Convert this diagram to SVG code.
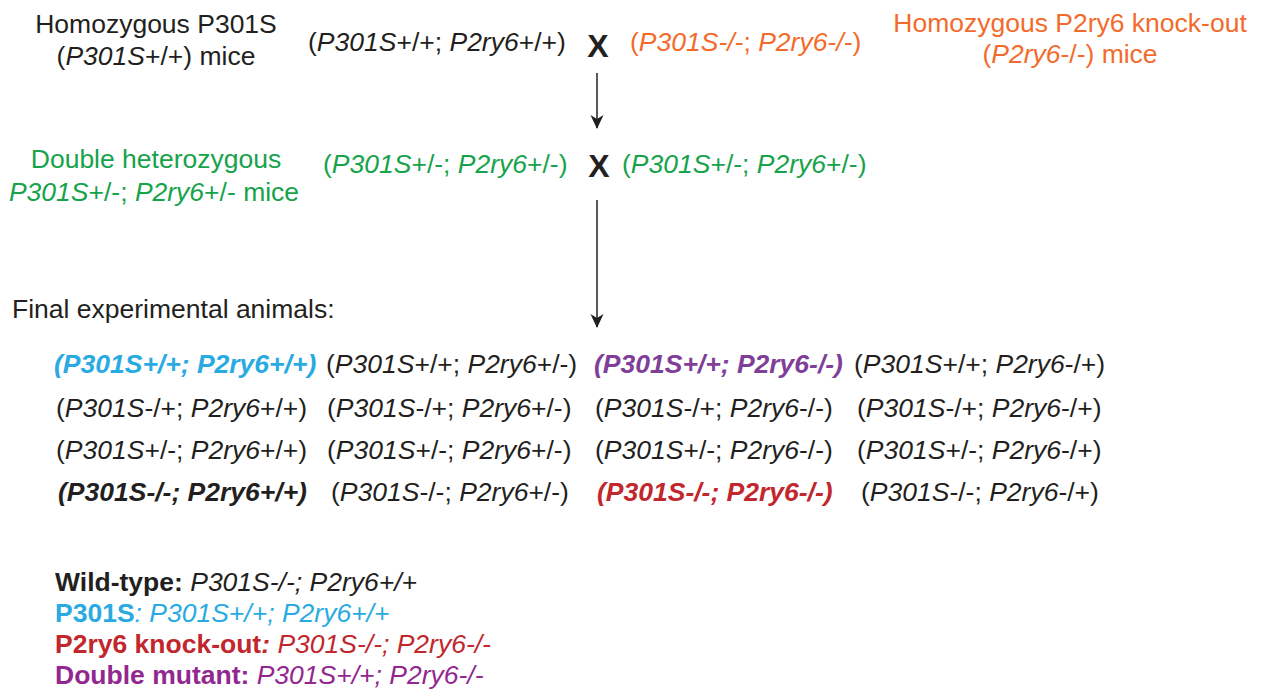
<svg xmlns="http://www.w3.org/2000/svg" width="1261" height="695" viewBox="0 0 1261 695">
  <defs>
    <marker id="arrowhead" viewBox="0 0 14 14" refX="13" refY="7" markerWidth="14" markerHeight="14" markerUnits="userSpaceOnUse" orient="auto">
      <path d="M0,0.5 L14,7 L0,13.5 L4,7 Z" fill="#231f20"/>
    </marker>
  </defs>
  <style>
    text { font-family: "Liberation Sans", Arial, sans-serif; font-size: 26.5px; fill: #231f20; }
    .i { font-style: italic; }
    .b { font-weight: bold; }
    .x { font-size: 32px; font-weight: bold; }
    .orange text, text.orange { fill: #f26b2c; }
    .green text, text.green { fill: #16a34b; }
    text.cyan, .cyan tspan { fill: #29abe2; }
    text.purple { fill: #7f3f98; }
    text.red, .red tspan { fill: #c1272d; }
    text.magenta, .magenta tspan { fill: #92278f; }
    .conn { stroke: #231f20; stroke-width: 1.5; fill: none; marker-end: url(#arrowhead); }
  </style>
  <rect width="1261" height="695" fill="#ffffff"/>

  <!-- parental generation -->
  <g id="parent-p301s">
    <text x="156" y="33" text-anchor="middle">Homozygous P301S</text>
    <text x="156" y="65" text-anchor="middle">(<tspan class="i">P301S</tspan>+/+) mice</text>
  </g>
  <g id="parent-cross">
    <text x="308" y="51">(<tspan class="i">P301S</tspan>+/+; <tspan class="i">P2ry6</tspan>+/+)</text>
    <text class="x" x="598" y="57" text-anchor="middle">X</text>
    <text class="orange" x="630" y="51">(<tspan class="i">P301S-/-</tspan>; <tspan class="i">P2ry6-/-</tspan>)</text>
  </g>
  <g id="parent-p2ry6" class="orange">
    <text x="1070" y="32" text-anchor="middle">Homozygous P2ry6 knock-out</text>
    <text x="1070" y="63" text-anchor="middle">(<tspan class="i">P2ry6</tspan>-/-) mice</text>
  </g>

  <!-- F1 generation -->
  <g id="f1-label" class="green">
    <text x="156" y="168" text-anchor="middle">Double heterozygous</text>
    <text x="154" y="201" text-anchor="middle"><tspan class="i">P301S</tspan>+/-; <tspan class="i">P2ry6</tspan>+/- mice</text>
  </g>
  <g id="f1-cross">
    <text class="green" x="323" y="173">(<tspan class="i">P301S</tspan>+/-; <tspan class="i">P2ry6</tspan>+/-)</text>
    <text class="x" x="599" y="177" text-anchor="middle">X</text>
    <text class="green" x="622" y="173">(<tspan class="i">P301S</tspan>+/-; <tspan class="i">P2ry6</tspan>+/-)</text>
  </g>

  <!-- connectors -->
  <g id="connectors">
    <line class="conn" x1="597" y1="73" x2="597" y2="128"/>
    <line class="conn" x1="597" y1="200" x2="597" y2="327"/>
  </g>

  <!-- offspring -->
  <g id="offspring">
    <text x="12" y="318">Final experimental animals:</text>

    <text class="cyan b i" x="54" y="373">(P301S+/+; P2ry6+/+)</text>
    <text x="326" y="373">(<tspan class="i">P301S</tspan>+/+; <tspan class="i">P2ry6</tspan>+/-)</text>
    <text class="purple b i" x="594" y="373">(P301S+/+; P2ry6-/-)</text>
    <text x="854" y="373">(<tspan class="i">P301S</tspan>+/+; <tspan class="i">P2ry6</tspan>-/+)</text>

    <text x="56" y="417">(<tspan class="i">P301S</tspan>-/+; <tspan class="i">P2ry6</tspan>+/+)</text>
    <text x="327" y="417">(<tspan class="i">P301S</tspan>-/+; <tspan class="i">P2ry6</tspan>+/-)</text>
    <text x="595" y="417">(<tspan class="i">P301S</tspan>-/+; <tspan class="i">P2ry6</tspan>-/-)</text>
    <text x="857" y="417">(<tspan class="i">P301S</tspan>-/+; <tspan class="i">P2ry6</tspan>-/+)</text>

    <text x="56" y="459">(<tspan class="i">P301S</tspan>+/-; <tspan class="i">P2ry6</tspan>+/+)</text>
    <text x="327" y="459">(<tspan class="i">P301S</tspan>+/-; <tspan class="i">P2ry6</tspan>+/-)</text>
    <text x="595" y="459">(<tspan class="i">P301S</tspan>+/-; <tspan class="i">P2ry6</tspan>-/-)</text>
    <text x="857" y="459">(<tspan class="i">P301S</tspan>+/-; <tspan class="i">P2ry6</tspan>-/+)</text>

    <text class="b i" x="58" y="501">(P301S-/-; P2ry6+/+)</text>
    <text x="331" y="501">(<tspan class="i">P301S</tspan>-/-; <tspan class="i">P2ry6</tspan>+/-)</text>
    <text class="red b i" x="597" y="501">(P301S-/-; P2ry6-/-)</text>
    <text x="861" y="501">(<tspan class="i">P301S</tspan>-/-; <tspan class="i">P2ry6</tspan>-/+)</text>
  </g>

  <!-- legend -->
  <g id="legend">
    <text x="55" y="591"><tspan class="b">Wild-type: </tspan><tspan class="i">P301S-/-; P2ry6+/+</tspan></text>
    <text class="cyan" x="55" y="622"><tspan class="b">P301S</tspan><tspan class="i">: P301S+/+; P2ry6+/+</tspan></text>
    <text class="red" x="55" y="653"><tspan class="b">P2ry6 knock-out</tspan><tspan class="b i">: </tspan><tspan class="i">P301S-/-; P2ry6-/-</tspan></text>
    <text class="magenta" x="55" y="684"><tspan class="b">Double mutant: </tspan><tspan class="i">P301S+/+; P2ry6-/-</tspan></text>
  </g>
</svg>
